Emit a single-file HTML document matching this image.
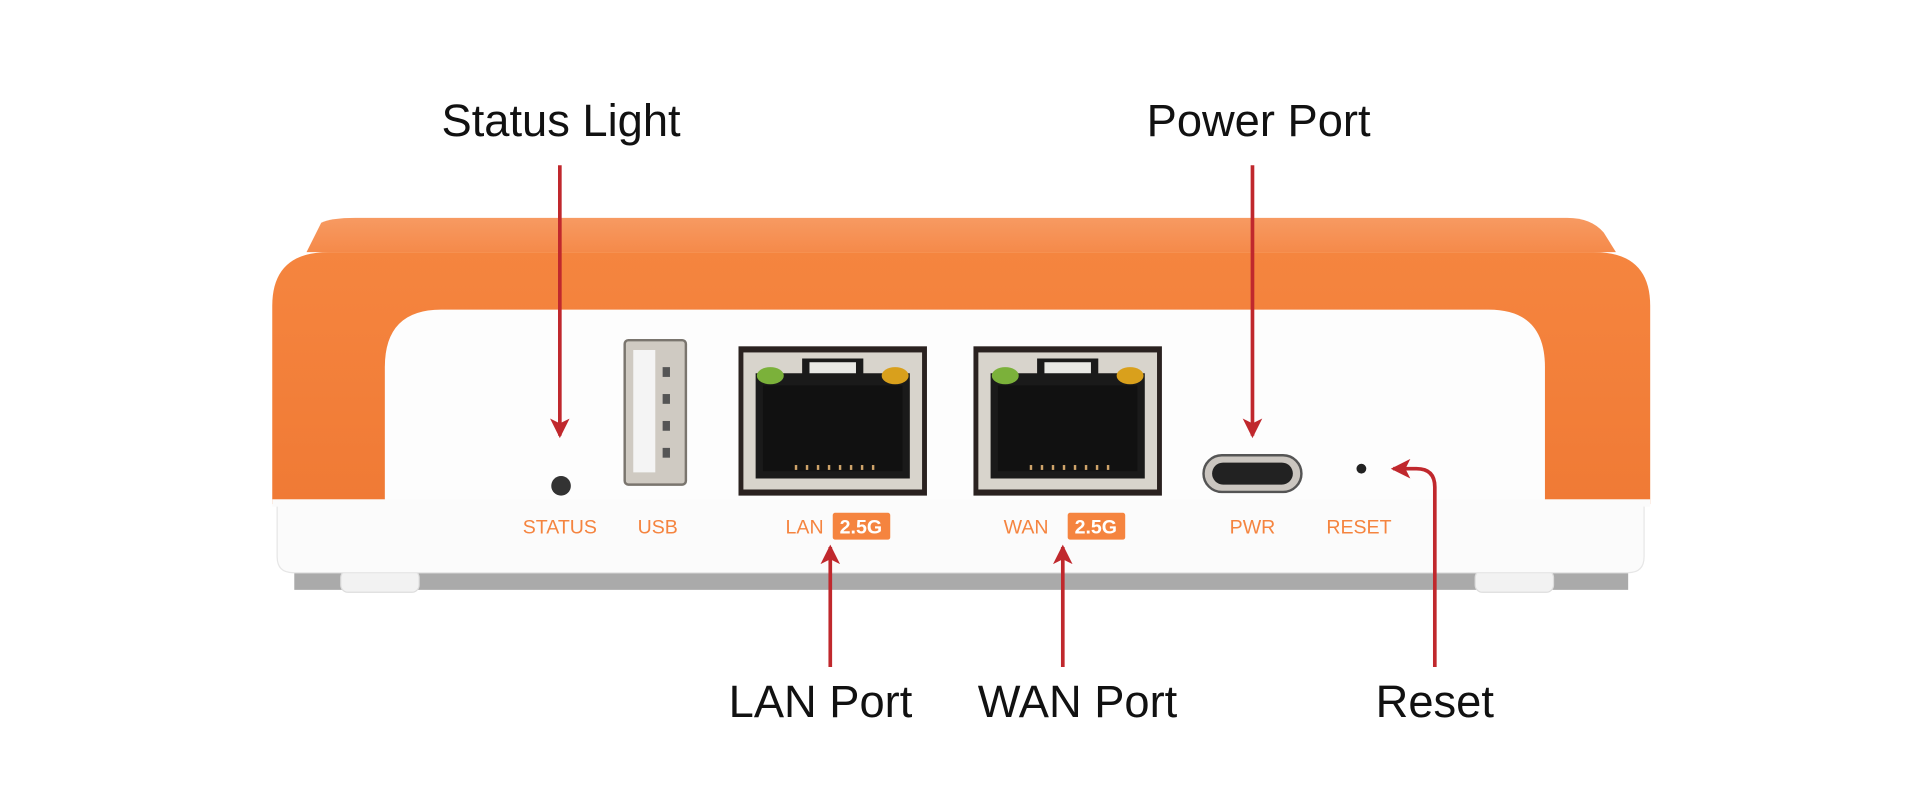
<!DOCTYPE html>
<html><head><meta charset="utf-8"><style>
html,body{margin:0;padding:0;background:#fff;}
svg{display:block}
text{font-family:"Liberation Sans",sans-serif;}
</style></head><body>
<svg width="1920" height="804" viewBox="0 0 1568 657" xmlns="http://www.w3.org/2000/svg">
<defs>
<linearGradient id="top" x1="0" y1="0" x2="0" y2="1"><stop offset="0" stop-color="#f79a62"/><stop offset="1" stop-color="#f58a4a"/></linearGradient>
<linearGradient id="front" x1="0" y1="0" x2="0" y2="1"><stop offset="0" stop-color="#f5853f"/><stop offset="1" stop-color="#f07a35"/></linearGradient>
<g id="rj">
<rect x="0" y="0" width="154" height="122" fill="#2a2220"/>
<rect x="4" y="5" width="146" height="112" fill="#d8d4cc"/>
<polygon points="14,22 52,22 52,10 102,10 102,22 140,22 140,108 14,108" fill="#1a1a1a"/>
<rect x="58" y="13" width="38" height="9" fill="#e8e8e4"/>
<ellipse cx="26" cy="24" rx="11" ry="7" fill="#7bb13a"/>
<ellipse cx="128" cy="24" rx="11" ry="7" fill="#d9a01c"/>
<rect x="20" y="32" width="114" height="70" fill="#111"/>
<g fill="#cfa46a"><rect x="46" y="97" width="2" height="4"/><rect x="55" y="97" width="2" height="4"/><rect x="64" y="97" width="2" height="4"/><rect x="73" y="97" width="2" height="4"/><rect x="82" y="97" width="2" height="4"/><rect x="91" y="97" width="2" height="4"/><rect x="100" y="97" width="2" height="4"/><rect x="109" y="97" width="2" height="4"/></g>
</g>
<marker id="ah" markerWidth="18" markerHeight="16" refX="14" refY="8" orient="auto" markerUnits="userSpaceOnUse"><path d="M0,0 L16,8 L0,16 L4,8 Z" fill="#c0282d"/></marker>
</defs>
<!-- shadow -->
<rect x="240" y="462" width="1090" height="20" fill="#555" opacity="0.5"/>
<!-- feet -->
<rect x="278" y="466" width="64" height="18" rx="6" fill="#f2f2f2" stroke="#ddd"/>
<rect x="1205" y="466" width="64" height="18" rx="6" fill="#f2f2f2" stroke="#ddd"/>
<!-- bottom white strip -->
<path d="M226,405 L1343,405 L1343,455 Q1343,468 1330,468 L239,468 Q226,468 226,455 Z" fill="#fbfbfb" stroke="#e6e6e6"/>
<!-- top face -->
<path d="M262,182 Q270,178 290,178 L1280,178 Q1300,178 1310,190 L1320,206 L250,206 Z" fill="url(#top)"/>
<!-- front orange -->
<path d="M222,250 Q222,206 268,206 L1302,206 Q1348,206 1348,250 L1348,412 L222,412 Z" fill="url(#front)"/>
<!-- inner cutout -->
<path d="M314,412 L314,300 Q314,253 360,253 L1216,253 Q1262,253 1262,300 L1262,412 Z" fill="#fdfdfd"/>
<rect x="222" y="408" width="1126" height="6" fill="#fbfbfb"/>
<!-- status led -->
<circle cx="458" cy="397" r="8" fill="#333"/>
<!-- USB -->
<rect x="510" y="278" width="50" height="118" rx="3" fill="#cfcac2" stroke="#7a756e" stroke-width="2"/>
<rect x="517" y="286" width="18" height="100" fill="#f4f4f4"/>
<g fill="#555"><rect x="541" y="300" width="6" height="8"/><rect x="541" y="322" width="6" height="8"/><rect x="541" y="344" width="6" height="8"/><rect x="541" y="366" width="6" height="8"/></g>
<!-- RJ45 -->
<use href="#rj" x="603" y="283"/>
<use href="#rj" x="795" y="283"/>
<!-- USB-C -->
<rect x="983" y="372" width="80" height="30" rx="15" fill="#cbc6c0" stroke="#555" stroke-width="2"/>
<rect x="990" y="378" width="66" height="18" rx="9" fill="#222"/>
<!-- reset -->
<circle cx="1112" cy="383" r="4" fill="#222"/>
<!-- labels -->
<g font-size="16" fill="#f5843f" text-anchor="middle">
<text x="457" y="436">STATUS</text>
<text x="537" y="436">USB</text>
<text x="657" y="436">LAN</text>
<text x="838" y="436">WAN</text>
<text x="1023" y="436">PWR</text>
<text x="1110" y="436">RESET</text>
</g>
<rect x="680" y="419" width="47" height="22" rx="2" fill="#f5843f"/>
<rect x="872" y="419" width="47" height="22" rx="2" fill="#f5843f"/>
<g font-size="16" fill="#fff" font-weight="bold" text-anchor="middle"><text x="703" y="436">2.5G</text><text x="895" y="436">2.5G</text></g>
<!-- arrows -->
<g stroke="#c0282d" stroke-width="3" fill="none">
<line x1="457" y1="135" x2="457" y2="356" marker-end="url(#ah)"/>
<line x1="1023" y1="135" x2="1023" y2="356" marker-end="url(#ah)"/>
<line x1="678" y1="545" x2="678" y2="447" marker-end="url(#ah)"/>
<line x1="868" y1="545" x2="868" y2="447" marker-end="url(#ah)"/>
<path d="M1172,545 L1172,398 Q1172,383 1157,383 L1138,383" marker-end="url(#ah)"/>
</g>
<g font-size="37" fill="#111" text-anchor="middle" style="font-family:'DejaVu Sans','Liberation Sans',sans-serif">
<text x="458" y="111">Status Light</text>
<text x="1028" y="111">Power Port</text>
<text x="670" y="586">LAN Port</text>
<text x="880" y="586">WAN Port</text>
<text x="1172" y="586">Reset</text>
</g>
</svg>
</body></html>
